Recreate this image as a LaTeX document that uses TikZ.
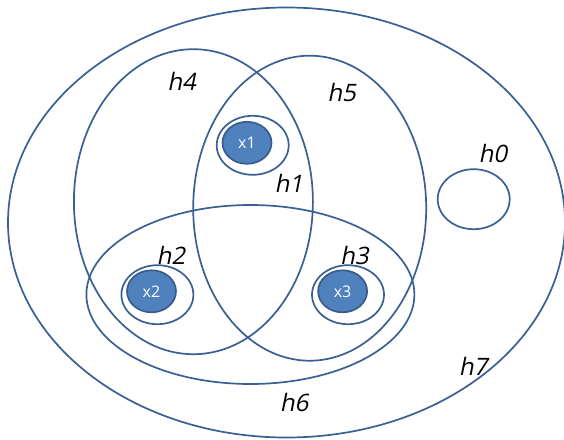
\documentclass[tikz,border=0pt]{standalone}
\usepackage{fontspec}
\usetikzlibrary{shapes.geometric}
\newfontfamily\hfont[FakeSlant=0.2]{Open Sans}
\newfontfamily\xfont{Open Sans}
\definecolor{lineblue}{HTML}{3A5F92}
\definecolor{fillblue}{HTML}{4F81BD}
\definecolor{edgeblue}{HTML}{385D8A}
\tikzset{
  setshape/.style={ellipse, draw=lineblue, line width=1.7pt, inner sep=0pt, outer sep=0pt},
  elem/.style={ellipse, draw=edgeblue, fill=fillblue, line width=1.7pt, inner sep=0pt, text=white, font=\xfont\fontsize{16}{16}\selectfont},
  hlabel/.style={font=\hfont\fontsize{24}{24}\selectfont, text=black, inner sep=0pt}
}
\begin{document}
\begin{tikzpicture}[x=1pt,y=-1pt]
\useasboundingbox (0,0) rectangle (564,439);
\fill[white] (0,0) rectangle (564,439);
\node[setshape, minimum width=557pt, minimum height=430pt] (h7) at (286.5,222.5) {};
\node[setshape, minimum width=239pt, minimum height=305pt] (h4) at (193.4,201.7) {};
\node[setshape, minimum width=233pt, minimum height=305pt] (h5) at (309.7,208.2) {};
\node[setshape, minimum width=328pt, minimum height=179pt] (h6) at (250.4,294.5) {};
\node[setshape, minimum width=72pt, minimum height=60pt] (h0) at (473.7,199.2) {};
\node[setshape, minimum width=72pt, minimum height=59pt] (r1) at (252.7,145.3) {};
\node[setshape, minimum width=72pt, minimum height=59pt] (r2) at (157.4,294.7) {};
\node[setshape, minimum width=72pt, minimum height=59pt] (r3) at (348,294.7) {};
\node[elem, minimum width=49pt, minimum height=42pt] (x1) at (247,142.8) {x1};
\node[elem, minimum width=49pt, minimum height=42pt] (x2) at (151.5,291.3) {x2};
\node[elem, minimum width=49pt, minimum height=42pt] (x3) at (342.6,291.3) {x3};
\node[hlabel] (l4) at (181.7,81) {h4};
\node[hlabel] (l5) at (341.7,92.7) {h5};
\node[hlabel] (l1) at (288.8,183.3) {h1};
\node[hlabel] (l0) at (492.8,153.3) {h0};
\node[hlabel] (l2) at (170.9,255) {h2};
\node[hlabel] (l3) at (354.3,255) {h3};
\node[hlabel] (l6) at (294.2,402.3) {h6};
\node[hlabel] (l7) at (473,366.7) {h7};
\end{tikzpicture}
\end{document}
